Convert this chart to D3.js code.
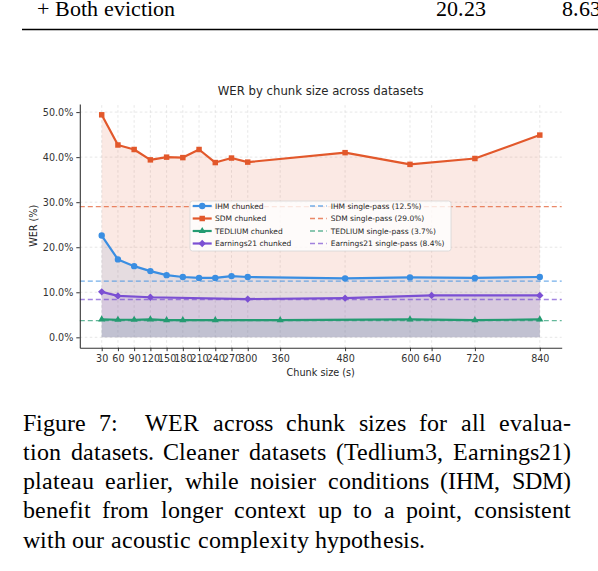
<!DOCTYPE html>
<html>
<head>
<meta charset="utf-8">
<script src="https://cdn.jsdelivr.net/npm/d3@7"></script>
<style>
  @font-face {
    font-family: "PaperSerif";
    src: local("Liberation Serif"), local("LiberationSerif"), local("LiberationSerif-Regular"),
         local("Times New Roman"), local("TimesNewRomanPSMT"), local("Tinos"), local("Tinos-Regular"),
         local("Nimbus Roman"), local("NimbusRoman-Regular"), local("DejaVu Serif"), local("DejaVuSerif"),
         local("Noto Serif"), local("NotoSerif-Regular"), local("FreeSerif");
  }
  body { margin: 0; background: #fff; }
  #page { width: 598px; height: 571px; overflow: hidden; }
</style>
</head>
<body>
<div id="page"></div>
<script>
// ---- WER by chunk size, figure 7 ----

// chunk sizes (s) and WER (%) per dataset
const IHM_X  = [30, 60, 90, 120, 150, 180, 210, 240, 270, 300, 480, 600, 720, 840];
const IHM_Y  = [22.6, 17.3, 15.8, 14.7, 13.8, 13.4, 13.2, 13.2, 13.6, 13.4, 13.1, 13.3, 13.2, 13.4];
const SDM_X  = [30, 60, 90, 120, 150, 180, 210, 240, 270, 300, 480, 600, 720, 840];
const SDM_Y  = [49.4, 42.7, 41.7, 39.4, 40.0, 39.9, 41.7, 38.8, 39.8, 38.9, 41.0, 38.4, 39.7, 44.9];
const TED_X  = [30, 60, 90, 120, 150, 180, 240, 360, 600, 720, 840];
const TED_Y  = [4.0, 3.9, 3.9, 4.0, 3.8, 3.8, 3.8, 3.8, 4.0, 3.8, 4.0];
const EARN_X = [30, 60, 120, 300, 480, 640, 840];
const EARN_Y = [10.1, 9.2, 8.9, 8.5, 8.7, 9.3, 9.3];

const SINGLE_PASS = [12.5, 29.0, 3.7, 8.4];   // IHM, SDM, TEDLIUM, Earnings21
const NAMES   = ["IHM", "SDM", "TEDLIUM", "Earnings21"];
const COLORS  = ["#3a8ee2", "#e2582b", "#249b72", "#7b4fd3"];
const MARKERS = ["circle", "square", "triangle", "diamond"];

const X_TICKS = [30, 60, 90, 120, 150, 180, 210, 240, 270, 300, 360, 480, 600, 640, 720, 840];
const Y_TICKS = [0, 10, 20, 30, 40, 50];

const CAPTION = [
  "Figure 7:  WER across chunk sizes for all evalua-",
  "tion datasets. Cleaner datasets (Tedlium3, Earnings21)",
  "plateau earlier, while noisier conditions (IHM, SDM)",
  "benefit from longer context up to a point, consistent",
  "with our acoustic complexity hypothesis."
];

const SERIF = "PaperSerif, 'Liberation Serif', 'Times New Roman', Times, 'DejaVu Serif', serif";
const SANS  = "'DejaVu Sans', sans-serif";

const series = NAMES.map((name, i) => ({
  name,
  color: COLORS[i],
  marker: MARKERS[i],
  single: SINGLE_PASS[i],
  points: [[IHM_X, IHM_Y], [SDM_X, SDM_Y], [TED_X, TED_Y], [EARN_X, EARN_Y]][i]
    .reduce((xs, ys) => xs.map((x, j) => ({ x, y: ys[j] })))
}));

// ---- page ----
const svg = d3.select("#page").append("svg")
  .attr("width", 598).attr("height", 571);

// table remnant at the top
const tbl = svg.append("g");
[["+ Both eviction", 37], ["20.23", 436], ["8.63", 561.7]].forEach(([t, tx]) => {
  tbl.append("text").attr("x", tx).attr("y", 16)
    .style("font-family", SERIF).style("font-size", "22px").attr("fill", "#000")
    .text(t);
});
svg.append("line")
  .attr("x1", 22).attr("x2", 598).attr("y1", 29.5).attr("y2", 29.5)
  .attr("stroke", "#000").attr("stroke-width", 1.3);

// ---- chart ----
const x = d3.scaleLinear().domain([-10.5, 880.5]).range([79.8, 561.7]);
const y = d3.scaleLinear().domain([-2.3, 51.8]).range([347.7, 104]);

const chart = svg.append("g").style("font-family", SANS);

// grid
const grid = chart.append("g")
  .attr("stroke", "#cfcfcf").attr("stroke-width", 0.6)
  .attr("stroke-dasharray", "2.5,2.5").attr("opacity", 0.8);
grid.selectAll("line.h").data(Y_TICKS).join("line").attr("class", "h")
  .attr("x1", x.range()[0]).attr("x2", x.range()[1])
  .attr("y1", d => y(d)).attr("y2", d => y(d));
grid.selectAll("line.v").data(X_TICKS).join("line").attr("class", "v")
  .attr("x1", d => x(d)).attr("x2", d => x(d))
  .attr("y1", y.range()[0]).attr("y2", y.range()[1]);

// fills to zero
const area = d3.area().x(d => x(d.x)).y0(y(0)).y1(d => y(d.y));
chart.append("g").selectAll("path").data(series).join("path")
  .attr("d", d => area(d.points))
  .attr("fill", d => d.color).attr("fill-opacity", 0.13);

// single-pass references
chart.append("g").selectAll("line").data(series).join("line")
  .attr("x1", x.range()[0]).attr("x2", x.range()[1])
  .attr("y1", d => y(d.single)).attr("y2", d => y(d.single))
  .attr("stroke", d => d.color).attr("stroke-width", 1.3)
  .attr("stroke-dasharray", "5,3").attr("opacity", 0.7);

// marker shapes
function markerPath(type) {
  if (type === "circle")   return d3.symbol(d3.symbolCircle, 32)();
  if (type === "square")   return d3.symbol(d3.symbolSquare, 30)();
  if (type === "triangle") return d3.symbol(d3.symbolTriangle, 22)();
  return d3.symbol(d3.symbolSquare, 27)();
}
const markerRot = type => type === "diamond" ? " rotate(45)" : "";

// chunked lines
const line = d3.line().x(d => x(d.x)).y(d => y(d.y));
const sg = chart.append("g").selectAll("g").data(series).join("g");
sg.append("path")
  .attr("d", d => line(d.points))
  .attr("fill", "none").attr("stroke", d => d.color)
  .attr("stroke-width", 2.2).attr("stroke-linejoin", "round");
sg.each(function(s) {
  d3.select(this).selectAll("path.mk").data(s.points).join("path")
    .attr("class", "mk")
    .attr("d", markerPath(s.marker))
    .attr("transform", d => `translate(${x(d.x)},${y(d.y)})${markerRot(s.marker)}`)
    .attr("fill", s.color);
});

// axes (left and bottom only)
const axY = chart.append("g").attr("transform", `translate(${x.range()[0]},0)`)
  .call(d3.axisLeft(y).tickValues(Y_TICKS).tickFormat(d => d.toFixed(1) + "%")
    .tickSize(3.5).tickPadding(3).tickSizeOuter(0));
const axX = chart.append("g").attr("transform", `translate(0,${y.range()[0]})`)
  .call(d3.axisBottom(x).tickValues(X_TICKS).tickFormat(d3.format("d"))
    .tickSize(3.5).tickPadding(3.5).tickSizeOuter(0));
[axY, axX].forEach(ax => {
  ax.attr("font-family", "DejaVu Sans").attr("font-size", 9.6).attr("color", "#333");
  ax.select(".domain").attr("stroke-width", 1.1);
});

// labels
chart.append("text").attr("x", 320.7).attr("y", 95)
  .attr("text-anchor", "middle").attr("font-size", 11.7).attr("fill", "#262626")
  .text("WER by chunk size across datasets");
chart.append("text").attr("x", 320.7).attr("y", 375.5)
  .attr("text-anchor", "middle").attr("font-size", 9.7).attr("fill", "#262626")
  .text("Chunk size (s)");
chart.append("text")
  .attr("transform", "translate(36.5,225.8) rotate(-90)")
  .attr("text-anchor", "middle").attr("font-size", 9.6).attr("fill", "#262626")
  .text("WER (%)");

// legend
const lg = chart.append("g");
lg.append("rect")
  .attr("x", 190).attr("y", 201).attr("width", 261).attr("height", 50)
  .attr("rx", 2.5).attr("fill", "#fff").attr("fill-opacity", 0.8)
  .attr("stroke", "#d6d6d6").attr("stroke-width", 0.8);
const rowY = i => 206 + i * 12.5;
series.forEach((s, i) => {
  // chunked entry
  lg.append("line").attr("x1", 192.7).attr("x2", 211.7)
    .attr("y1", rowY(i)).attr("y2", rowY(i))
    .attr("stroke", s.color).attr("stroke-width", 2.2);
  lg.append("path").attr("d", markerPath(s.marker))
    .attr("transform", `translate(202.2,${rowY(i)})${markerRot(s.marker)}`)
    .attr("fill", s.color);
  lg.append("text").attr("x", 215).attr("y", rowY(i)).attr("dy", "0.36em")
    .attr("font-size", 7.5).attr("fill", "#262626").text(`${s.name} chunked`);
  // single-pass entry
  lg.append("line").attr("x1", 310).attr("x2", 326.7)
    .attr("y1", rowY(i)).attr("y2", rowY(i))
    .attr("stroke", s.color).attr("stroke-width", 1.3)
    .attr("stroke-dasharray", "5,3").attr("opacity", 0.7);
  lg.append("text").attr("x", 330.7).attr("y", rowY(i)).attr("dy", "0.36em")
    .attr("font-size", 7.5).attr("fill", "#262626")
    .text(`${s.name} single-pass (${s.single.toFixed(1)}%)`);
});

// ---- caption, justified to the column width ----
const capLeft = 22.7, capRight = 571, lastLineEnd = 425;
const cap = svg.append("g");
const capLines = CAPTION.map((t, i) =>
  cap.append("text").attr("x", capLeft).attr("y", 430.7 + i * 29.2)
    .style("font-family", SERIF).style("font-size", "24.3px")
    .style("white-space", "pre").attr("fill", "#000")
    .text(t));

function justify() {
  capLines.forEach((el, i) => {
    const t = CAPTION[i];
    if (i === CAPTION.length - 1) {
      // last line keeps its natural spacing in the paper; match its length only
      el.attr("textLength", lastLineEnd - capLeft).attr("lengthAdjust", "spacing");
      return;
    }
    el.style("word-spacing", null);
    const natural = el.node().getComputedTextLength();
    const spaces = (t.match(/ /g) || []).length;
    el.style("word-spacing", ((capRight - capLeft - natural) / spaces) + "px");
  });
}
justify();
document.fonts.load("24px PaperSerif").then(justify, justify);
</script>
</body>
</html>
